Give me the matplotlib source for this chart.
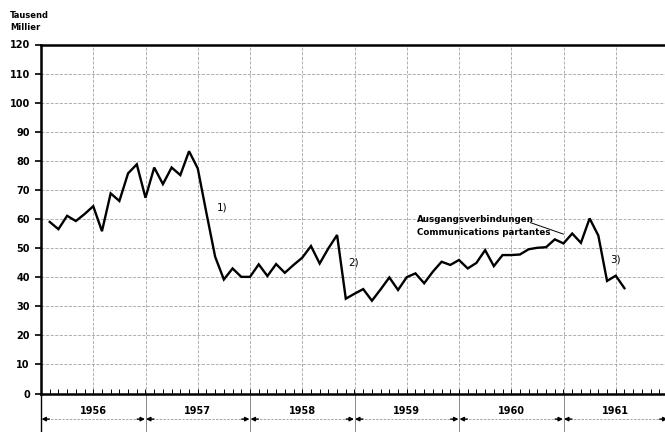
import matplotlib
matplotlib.use("Agg")
import matplotlib.pyplot as plt
import numpy as np

plt.rcParams['font.family'] = ['Liberation Sans Narrow', 'DejaVu Sans']

# ---- data (monthly values, thousands) ----
years = [1956, 1957, 1958, 1959, 1960, 1961]
values_1956 = [59.0, 56.5, 61.1, 59.3, 61.7, 64.4, 55.8, 68.8, 66.2, 75.7, 78.8, 67.3]
values_1957 = [77.7, 72.0, 77.7, 75.1, 83.3, 77.4, 62.0, 47.0, 39.2, 43.0, 40.1, 40.1]
values_1958 = [44.4, 40.4, 44.5, 41.5, 44.2, 46.7, 50.7, 44.7, 49.9, 54.5, 32.6, 34.3]
values_1959 = [35.9, 31.9, 35.8, 39.9, 35.6, 40.0, 41.3, 37.9, 41.9, 45.3, 44.2, 45.9]
values_1960 = [43.0, 44.9, 49.3, 43.8, 47.6, 47.6, 47.8, 49.6, 50.1, 50.3, 53.0, 51.6]
values_1961 = [55.0, 51.8, 60.2, 54.3, 38.7, 40.5, 36.2]
yticks = [0, 10, 20, 30, 40, 50, 60, 70, 80, 90, 100, 110, 120]
unit_labels = ["Tausend", "Millier"]
series_label = ["Ausgangsverbindungen", "Communications partantes"]
notes = ["1)", "2)", "3)"]
note_months = [1957 + 8.2 / 12, 1958 + 11.3 / 12, 1961 + 5.4 / 12]
note_values = [64, 45, 46]

all_values = [values_1956, values_1957, values_1958, values_1959, values_1960, values_1961]
xs, ys = [], []
for yr, vals in zip(years, all_values):
    for m, v in enumerate(vals):
        xs.append(yr + (m + 1) / 12.0)
        ys.append(v)

W, H = 665, 432
fig = plt.figure(figsize=(W / 100, H / 100), dpi=100)
left_px, right_px = 41, 668
top_px, bottom_px = 44.5, 393.5
ax = fig.add_axes([left_px / W, 1 - bottom_px / H,
                   (right_px - left_px) / W, (bottom_px - top_px) / H])
ax.set_xlim(1956, 1962)
ax.set_ylim(0, 120)

# grid
grid_kw = dict(color='#9a9a9a', lw=0.55, ls=(0, (4, 2)), zorder=1)
for yv in yticks[1:-1]:
    ax.axhline(yv, **grid_kw)
for xv in np.arange(1956.5, 1962, 0.5):
    ax.axvline(xv, **grid_kw)

# main line
ax.plot(xs, ys, color='black', lw=1.7, zorder=3, solid_joinstyle='miter')

# spines
for s in ['left', 'bottom', 'top']:
    ax.spines[s].set_linewidth(1.8)
    ax.spines[s].set_color('black')
ax.spines['right'].set_visible(False)

ax.set_yticks(yticks)
ax.set_yticklabels([str(t) for t in yticks], fontsize=7, fontweight='bold')
ax.tick_params(axis='y', length=4, width=1.2, pad=4, direction='out')
ax.set_xticks(np.arange(1956, 1962.01, 1 / 12.0), minor=True)
ax.set_xticks([])
ax.tick_params(axis='x', which='minor', length=3.5, width=0.7, direction='in')

# below-axis year annotation
for b in range(1956, 1963):
    ax.plot([b, b], [0, -14], color='#777777', lw=0.6, clip_on=False, zorder=1)
ax.plot([1956, 1956], [0, -14], color='black', lw=1.0, clip_on=False)
for yr in years:
    ax.text(yr + 0.5, -6.0, str(yr), ha='center', va='center', fontsize=7,
            fontweight='bold', clip_on=False)
    ax.plot([yr + 0.02, yr + 0.98], [-8.8, -8.8], color='#999999', lw=0.6,
            ls=(0, (3, 1.5)), clip_on=False)
    ax.annotate('', xy=(yr + 0.005, -8.8), xytext=(yr + 0.08, -8.8),
                arrowprops=dict(arrowstyle='-|>', color='black', lw=1.0,
                                mutation_scale=6, shrinkA=0, shrinkB=0),
                annotation_clip=False)
    ax.annotate('', xy=(yr + 0.995, -8.8), xytext=(yr + 0.92, -8.8),
                arrowprops=dict(arrowstyle='-|>', color='black', lw=1.0,
                                mutation_scale=6, shrinkA=0, shrinkB=0),
                annotation_clip=False)

# notes
for t, xv, yv in zip(notes, note_months, note_values):
    ax.text(xv, yv, t, fontsize=7.5, ha='left', va='center')

# series label with pointer
ax.text(1959.6, 60.0, series_label[0], fontsize=6.3, fontweight='bold', ha='left', va='center')
ax.text(1959.6, 55.2, series_label[1], fontsize=6.3, fontweight='bold', ha='left', va='center')
ax.annotate('', xy=(1961.0, 54.8), xytext=(1960.68, 58.8),
            arrowprops=dict(arrowstyle='-', color='black', lw=0.7, shrinkA=0, shrinkB=0))

# unit labels
fig.text(10 / W, 1 - 15 / H, unit_labels[0], fontsize=6, fontweight='bold', va='center', ha='left')
fig.text(10 / W, 1 - 27 / H, unit_labels[1], fontsize=6, fontweight='bold', va='center', ha='left')

fig.savefig('out.png', dpi=100)
